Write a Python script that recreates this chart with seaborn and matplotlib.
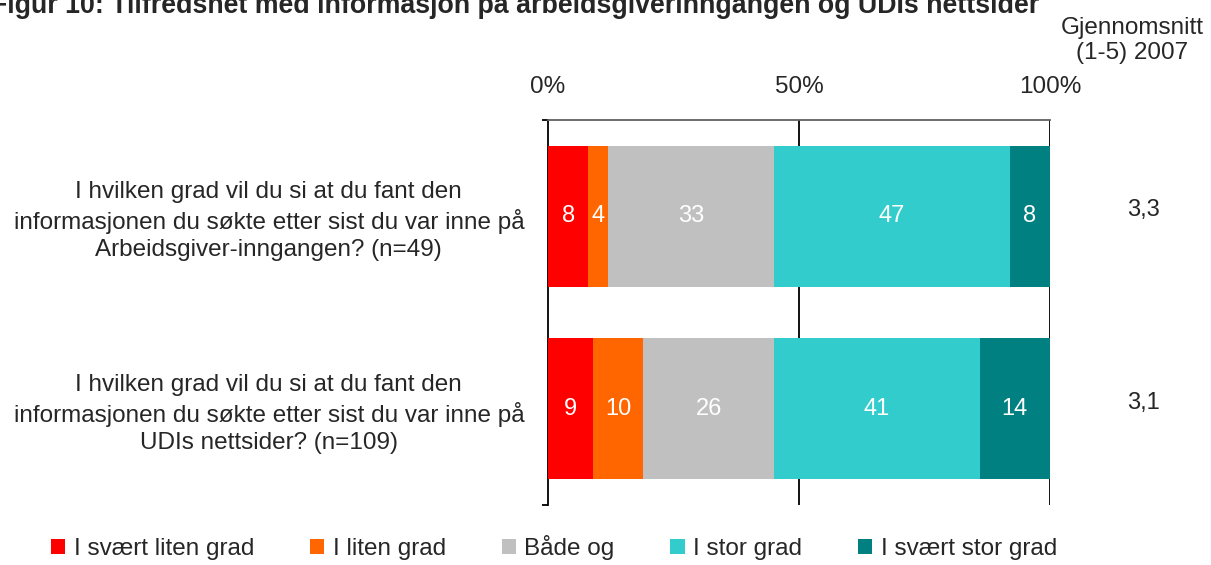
import matplotlib
matplotlib.use("Agg")
import matplotlib.pyplot as plt
import seaborn as sns
import numpy as np
import pandas as pd

questions = [
    "I hvilken grad vil du si at du fant den\ninformasjonen du søkte etter sist du var inne på\nArbeidsgiver-inngangen? (n=49)",
    "I hvilken grad vil du si at du fant den\ninformasjonen du søkte etter sist du var inne på\nUDIs nettsider? (n=109)",
]
series = ["I svært liten grad", "I liten grad", "Både og", "I stor grad", "I svært stor grad"]
values = {
    "I svært liten grad": [8, 9],
    "I liten grad": [4, 10],
    "Både og": [33, 26],
    "I stor grad": [47, 41],
    "I svært stor grad": [8, 14],
}
averages = ["3,3", "3,1"]
colors = ["#FF0000", "#FF6600", "#C0C0C0", "#33CCCC", "#008080"]
xticks = [0, 50, 100]
xticklabels = ["0%", "50%", "100%"]
title = "Figur 10: Tilfredshet med informasjon på arbeidsgiverinngangen og UDIs nettsider"

sns.set_theme(style="white")
plt.rcParams["font.family"] = ["Liberation Sans", "DejaVu Sans"]

FS = 17.5

fig = plt.figure(figsize=(12.11, 5.65), dpi=100)
ax = fig.add_axes([548 / 1211, 1 - 505 / 565, (1050 - 548) / 1211, (505 - 120) / 565])

df = pd.DataFrame(values, index=questions)
cum = df.cumsum(axis=1)

# draw from the full cumulative back to the first segment
for s, c in reversed(list(zip(series, colors))):
    sub = pd.DataFrame({"q": questions, "v": cum[s].values})
    sns.barplot(data=sub, y="q", x="v", orient="h", color=c, width=0.73,
                saturation=1, ax=ax, label=s, linewidth=0, zorder=3)

# segment labels
for i, q in enumerate(questions):
    left = 0
    for s in series:
        v = df.loc[q, s]
        ax.text(left + v / 2, i, str(v), ha="center", va="center",
                color="white", fontsize=17, zorder=5)
        left += v

ax.set_xlim(0, 100)
ax.set_ylim(1.5, -0.5)
ax.xaxis.tick_top()
ax.set_xticks(xticks)
ax.set_xticklabels(xticklabels, fontsize=FS)
ax.tick_params(axis="x", length=0, pad=16)
ax.set_xlabel("")
ax.set_ylabel("")
for xv in [50, 100]:
    ax.axvline(xv, color="black", lw=1.3, zorder=1)

ax.set_yticks(range(len(questions)))
ax.set_yticklabels(questions, fontsize=FS, ha="center", linespacing=1.3)
ax.tick_params(axis="y", length=0, pad=201)
ax.set_yticks([-0.5, 1.5], minor=True)
ax.tick_params(axis="y", which="minor", length=4.5, width=1.3, color="black", left=True)

for side in ["right", "bottom"]:
    ax.spines[side].set_visible(False)
ax.spines["left"].set_color("black")
ax.spines["left"].set_linewidth(1.3)
ax.spines["top"].set_color("#606060")
ax.spines["top"].set_linewidth(1.3)

# averages column
for i, a in enumerate(averages):
    ax.text(1.186, i - 0.03, a, transform=ax.get_yaxis_transform(), ha="center",
            va="center", fontsize=17)
fig.text(1132 / 1211, 1 - 64 / 565, "Gjennomsnitt\n(1-5) 2007", ha="center", va="bottom",
         multialignment="center", fontsize=FS, linespacing=1.2)

fig.text(-9 / 1211, 1 - 13 / 565, title, ha="left", va="baseline", fontsize=19.3, fontweight="bold")

handles, labels = ax.get_legend_handles_labels()
order = [labels.index(s) for s in series]
leg = fig.legend([handles[k] for k in order], [labels[k] for k in order],
                 loc="center", bbox_to_anchor=(554 / 1211, 1 - 548 / 565), ncol=5,
                 frameon=False, fontsize=FS, handlelength=0.58, handleheight=0.58,
                 handletextpad=0.35, columnspacing=2.3, borderpad=0)
if ax.get_legend():
    ax.get_legend().remove()

fig.savefig("out.png", dpi=100)
